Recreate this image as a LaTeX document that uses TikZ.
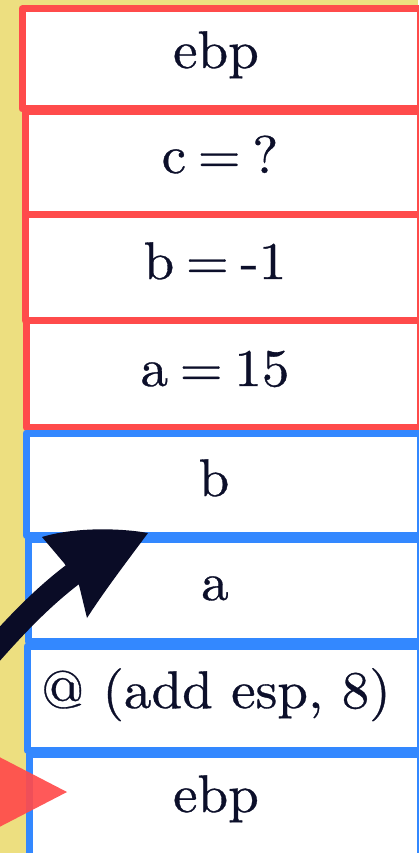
\documentclass[tikz,border=0pt]{standalone}
\usepackage{fontspec}
\newfontfamily\lblfont{lmroman10-regular.otf}[FakeStretch=1.04, FakeBold=0.6]
\definecolor{bgyellow}{HTML}{EDDF80}
\definecolor{boxred}{HTML}{FF4B4B}
\definecolor{boxblue}{HTML}{3388FF}
\definecolor{ink}{HTML}{0C0F2A}
\definecolor{arrowink}{HTML}{0A0C26}
\begin{document}
\begin{tikzpicture}[x=1pt,y=-1pt,
  cell/.style={fill=white, line width=7pt, line join=round},
  redcell/.style={cell, draw=boxred},
  bluecell/.style={cell, draw=boxblue},
  label/.style={anchor=base, text=ink, inner sep=0pt, font=\lblfont\fontsize{53}{60}\selectfont}
]
\useasboundingbox (0,0) rectangle (418,853);
\fill[bgyellow] (0,0) rectangle (418,853);
% boxes (left, top) -- (right, bottom)
\draw[redcell]  (22,9)    rectangle (420,109);
\draw[redcell]  (25,112)  rectangle (420,214.5);
\draw[redcell]  (25,214.5) rectangle (420,320.5);
\draw[redcell]  (26,320.5) rectangle (420,427.5);
\draw[bluecell] (26,433)  rectangle (420,535.5);
\draw[bluecell] (28,539)  rectangle (420,641);
\draw[bluecell] (27,646)  rectangle (420,750);
\draw[bluecell] (29,754)  rectangle (420,870);
% texts
\node[label] (t1) at (216,68)  {ebp};
\node[label] (t2) at (220,173) {c\hspace{0.22em}=\hspace{0.22em}?};
\node[label] (t3) at (215,279) {b\hspace{0.22em}=\hspace{0.22em}-1};
\node[label] (t4) at (215,386) {a\hspace{0.22em}=\hspace{0.22em}15};
\node[label] (t5) at (214,496) {b};
\node[label] (t6) at (215,600) {a};
\node[label] (t7) at (216,708) {@ (add esp, 8)};
\node[label] (t8) at (216,812) {ebp};
% curved arrow
\coordinate (as) at (-25,672);
\coordinate (ae) at (76,572);
\draw[arrowink, line width=23pt] (as) .. controls (15,625) and (45,595) .. (ae);
\fill[arrowink] (42,537) .. controls (75,527) and (120,528) .. (148,533)
  .. controls (128,560) and (105,590) .. (87,618)
  -- (79,585) -- (64,563) -- cycle;
% red pointer triangle
\fill[boxred, opacity=0.92] (-20,747) -- (67,792) -- (-20,837) -- cycle;
\end{tikzpicture}
\end{document}
